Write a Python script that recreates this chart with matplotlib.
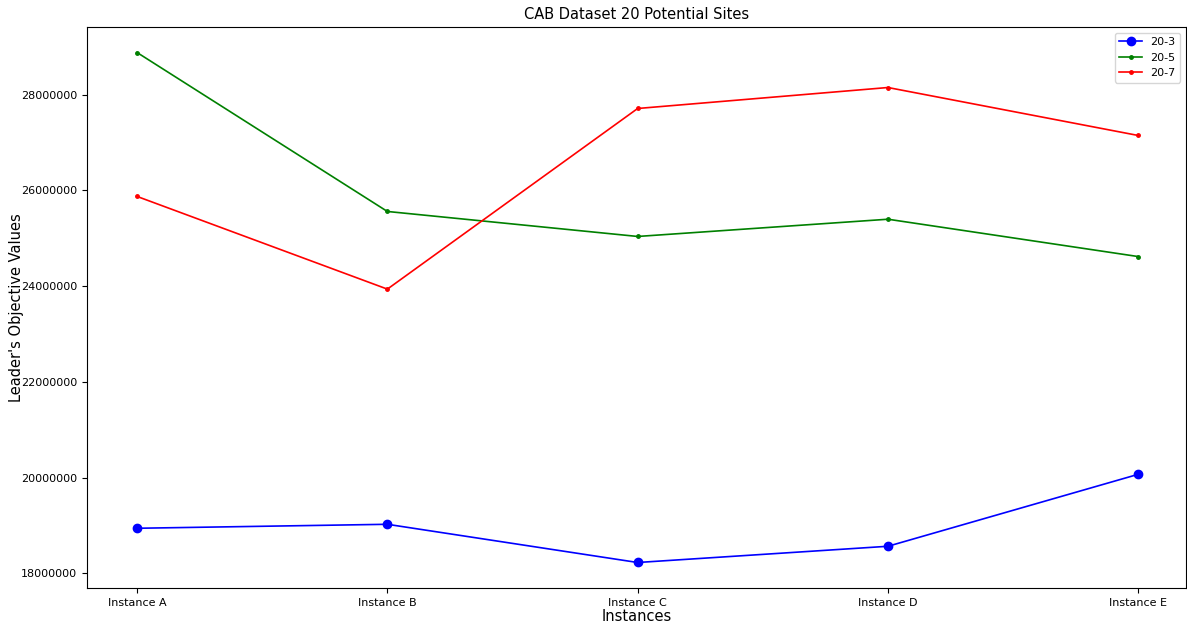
import numpy as np
import matplotlib
matplotlib.use('Agg')
import matplotlib.pyplot as plt

instances = ['Instance A', 'Instance B', 'Instance C', 'Instance D', 'Instance E']
s20_3 = [18940000, 19023000, 18225000, 18564000, 20067000]
s20_5 = [28877000, 25557000, 25035000, 25395000, 24615000]
s20_7 = [25871000, 23935000, 27708000, 28146000, 27144000]

fig = plt.figure(figsize=(11.87, 6.24), dpi=100)
ax = fig.add_axes([0.0733, 0.0577, 0.9257, 0.899])

x = np.arange(len(instances))
ax.plot(x, s20_3, color='b', marker='o', markersize=6, lw=1.2, label='20-3')
ax.plot(x, s20_5, color='g', marker='.', markersize=5, lw=1.2, label='20-5')
ax.plot(x, s20_7, color='r', marker='.', markersize=5, lw=1.2, label='20-7')
ax.set_xlim(-0.2, 4.19)

ax.set_xticks(x)
ax.set_xticklabels(instances, fontsize=8)
ax.tick_params(axis='y', labelsize=8)
ax.ticklabel_format(axis='y', style='plain', useOffset=False)
ax.set_yticks([18000000, 20000000, 22000000, 24000000, 26000000, 28000000])

ax.set_xlabel('Instances', fontsize=10.5, labelpad=1)
ax.set_ylabel("Leader's Objective Values", fontsize=10.5, labelpad=-2)
ax.set_title('CAB Dataset 20 Potential Sites', fontsize=10.5)
ax.legend(loc='upper right', fontsize=8)

fig.savefig('out.png', dpi=100)
